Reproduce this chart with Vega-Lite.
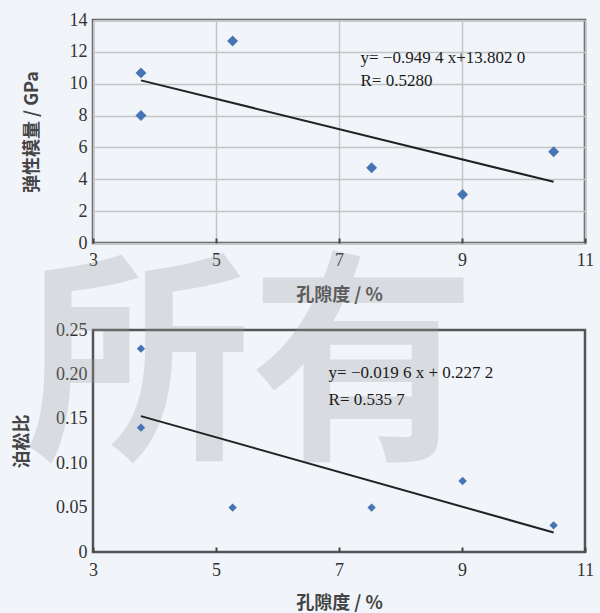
{
  "$schema": "https://vega.github.io/schema/vega-lite/v6.json",
  "background": "#f1f5fa",
  "padding": {"left": 12, "top": 9, "right": 15, "bottom": 0},
  "bounds": "flush",
  "spacing": 87,
  "datasets": {
    "top": [
      {"porosity": 3.78, "value": 10.68},
      {"porosity": 3.78, "value": 8.0},
      {"porosity": 5.27, "value": 12.68},
      {"porosity": 7.53, "value": 4.73},
      {"porosity": 9.01, "value": 3.05},
      {"porosity": 10.49, "value": 5.73}
    ],
    "topfit": [
      {"porosity": 3.78, "value": 10.21},
      {"porosity": 10.49, "value": 3.84}
    ],
    "bottom": [
      {"porosity": 3.78, "value": 0.229},
      {"porosity": 3.78, "value": 0.14},
      {"porosity": 5.27, "value": 0.05},
      {"porosity": 7.53, "value": 0.05},
      {"porosity": 9.01, "value": 0.08},
      {"porosity": 10.49, "value": 0.03}
    ],
    "bottomfit": [
      {"porosity": 3.78, "value": 0.153},
      {"porosity": 10.49, "value": 0.022}
    ],
    "one": [{"k": 1}]
  },
  "config": {
    "view": {"stroke": "#555555", "strokeWidth": 2.5},
    "axis": {
      "labelOverlap": false,
      "labelFlush": false,
      "domain": false,
      "gridColor": "#c4c4c4",
      "gridWidth": 1.5
    }
  },
  "vconcat": [
    {
      "width": 492,
      "height": 223,
      "layer": [
        {
          "data": {"name": "top"},
          "mark": {"type": "point", "shape": "diamond", "filled": true, "color": "#4674b5", "size": 120, "opacity": 1},
          "encoding": {
            "x": {"field": "porosity", "type": "quantitative", "scale": {"domain": [3, 11], "nice": false, "zero": false},
                  "axis": {"values": [3, 5, 7, 9, 11], "tickCount": 5, "format": "d", "labelFont": "Liberation Serif", "labelFontSize": 18, "labelColor": "#333333", "labelOverlap": false, "title": "孔隙度 / %", "titleFont": "Noto Sans CJK SC", "titleFontSize": 18, "titleFontWeight": "bold", "titleColor": "#444444", "tickSize": -5, "tickColor": "#444444", "tickWidth": 2, "labelPadding": 13, "titlePadding": 17, "gridColor": "#c4c4c4", "gridWidth": 1.5}},
            "y": {"field": "value", "type": "quantitative", "scale": {"domain": [0, 14], "nice": false},
                  "axis": {"values": [0, 2, 4, 6, 8, 10, 12, 14], "tickCount": 8, "format": "d", "labelFont": "Liberation Serif", "labelFontSize": 18, "labelColor": "#333333", "labelOverlap": false, "title": "弹性模量 / GPa", "titleFont": "Noto Sans CJK SC", "titleFontSize": 18, "titleFontWeight": "bold", "titleColor": "#444444", "ticks": false, "labelPadding": 6, "titlePadding": 28, "gridColor": "#c4c4c4", "gridWidth": 1.5}}
          }
        },
        {
          "data": {"name": "topfit"},
          "mark": {"type": "line", "color": "#222222", "strokeWidth": 2},
          "encoding": {
            "x": {"field": "porosity", "type": "quantitative"},
            "y": {"field": "value", "type": "quantitative"}
          }
        },
        {
          "data": {"name": "one"},
          "mark": {"type": "text", "text": "y= −0.949 4 x+13.802 0", "align": "left", "baseline": "middle", "font": "Liberation Serif", "fontSize": 17, "color": "#1a1a1a"},
          "encoding": {"x": {"datum": 7.35}, "y": {"datum": 11.6}}
        },
        {
          "data": {"name": "one"},
          "mark": {"type": "text", "text": "R= 0.5280", "align": "left", "baseline": "middle", "font": "Liberation Serif", "fontSize": 17, "color": "#1a1a1a"},
          "encoding": {"x": {"datum": 7.35}, "y": {"datum": 10.2}}
        }
      ]
    },
    {
      "width": 492,
      "height": 222,
      "layer": [
        {
          "data": {"name": "one"},
          "mark": {"type": "text", "text": "所有", "align": "center", "baseline": "middle", "font": "Noto Sans CJK SC", "fontSize": 225, "fontWeight": "bold", "color": "#9a9a9a", "opacity": 0.28, "clip": false},
          "encoding": {"x": {"datum": 5.56}, "y": {"datum": 0.2}}
        },
        {
          "data": {"name": "bottom"},
          "mark": {"type": "point", "shape": "diamond", "filled": true, "color": "#4674b5", "size": 70, "opacity": 1},
          "encoding": {
            "x": {"field": "porosity", "type": "quantitative", "scale": {"domain": [3, 11], "nice": false, "zero": false},
                  "axis": {"values": [3, 5, 7, 9, 11], "tickCount": 5, "format": "d", "labelFont": "Liberation Serif", "labelFontSize": 18, "labelColor": "#333333", "labelOverlap": false, "title": "孔隙度 / %", "titleFont": "Noto Sans CJK SC", "titleFontSize": 18, "titleFontWeight": "bold", "titleColor": "#444444", "tickSize": -5, "tickColor": "#444444", "tickWidth": 2, "labelPadding": 14, "titlePadding": 15, "gridColor": "#c4c4c4", "gridWidth": 1.5}},
            "y": {"field": "value", "type": "quantitative", "scale": {"domain": [0, 0.25], "nice": false},
                  "axis": {"values": [0, 0.05, 0.1, 0.15, 0.2, 0.25], "tickCount": 6, "labelExpr": "datum.value == 0 ? '0' : format(datum.value, '.2f')", "labelFont": "Liberation Serif", "labelFontSize": 18, "labelColor": "#333333", "labelOverlap": false, "title": "泊松比", "titleFont": "Noto Sans CJK SC", "titleFontSize": 18, "titleFontWeight": "bold", "titleColor": "#444444", "ticks": false, "labelPadding": 6, "titlePadding": 24, "gridColor": "#c4c4c4", "gridWidth": 1.5}}
          }
        },
        {
          "data": {"name": "bottomfit"},
          "mark": {"type": "line", "color": "#222222", "strokeWidth": 2},
          "encoding": {
            "x": {"field": "porosity", "type": "quantitative"},
            "y": {"field": "value", "type": "quantitative"}
          }
        },
        {
          "data": {"name": "one"},
          "mark": {"type": "text", "text": "y= −0.019 6 x + 0.227 2", "align": "left", "baseline": "middle", "font": "Liberation Serif", "fontSize": 17, "color": "#1a1a1a"},
          "encoding": {"x": {"datum": 6.83}, "y": {"datum": 0.202}}
        },
        {
          "data": {"name": "one"},
          "mark": {"type": "text", "text": "R= 0.535 7", "align": "left", "baseline": "middle", "font": "Liberation Serif", "fontSize": 17, "color": "#1a1a1a"},
          "encoding": {"x": {"datum": 6.83}, "y": {"datum": 0.171}}
        }
      ]
    }
  ]
}
